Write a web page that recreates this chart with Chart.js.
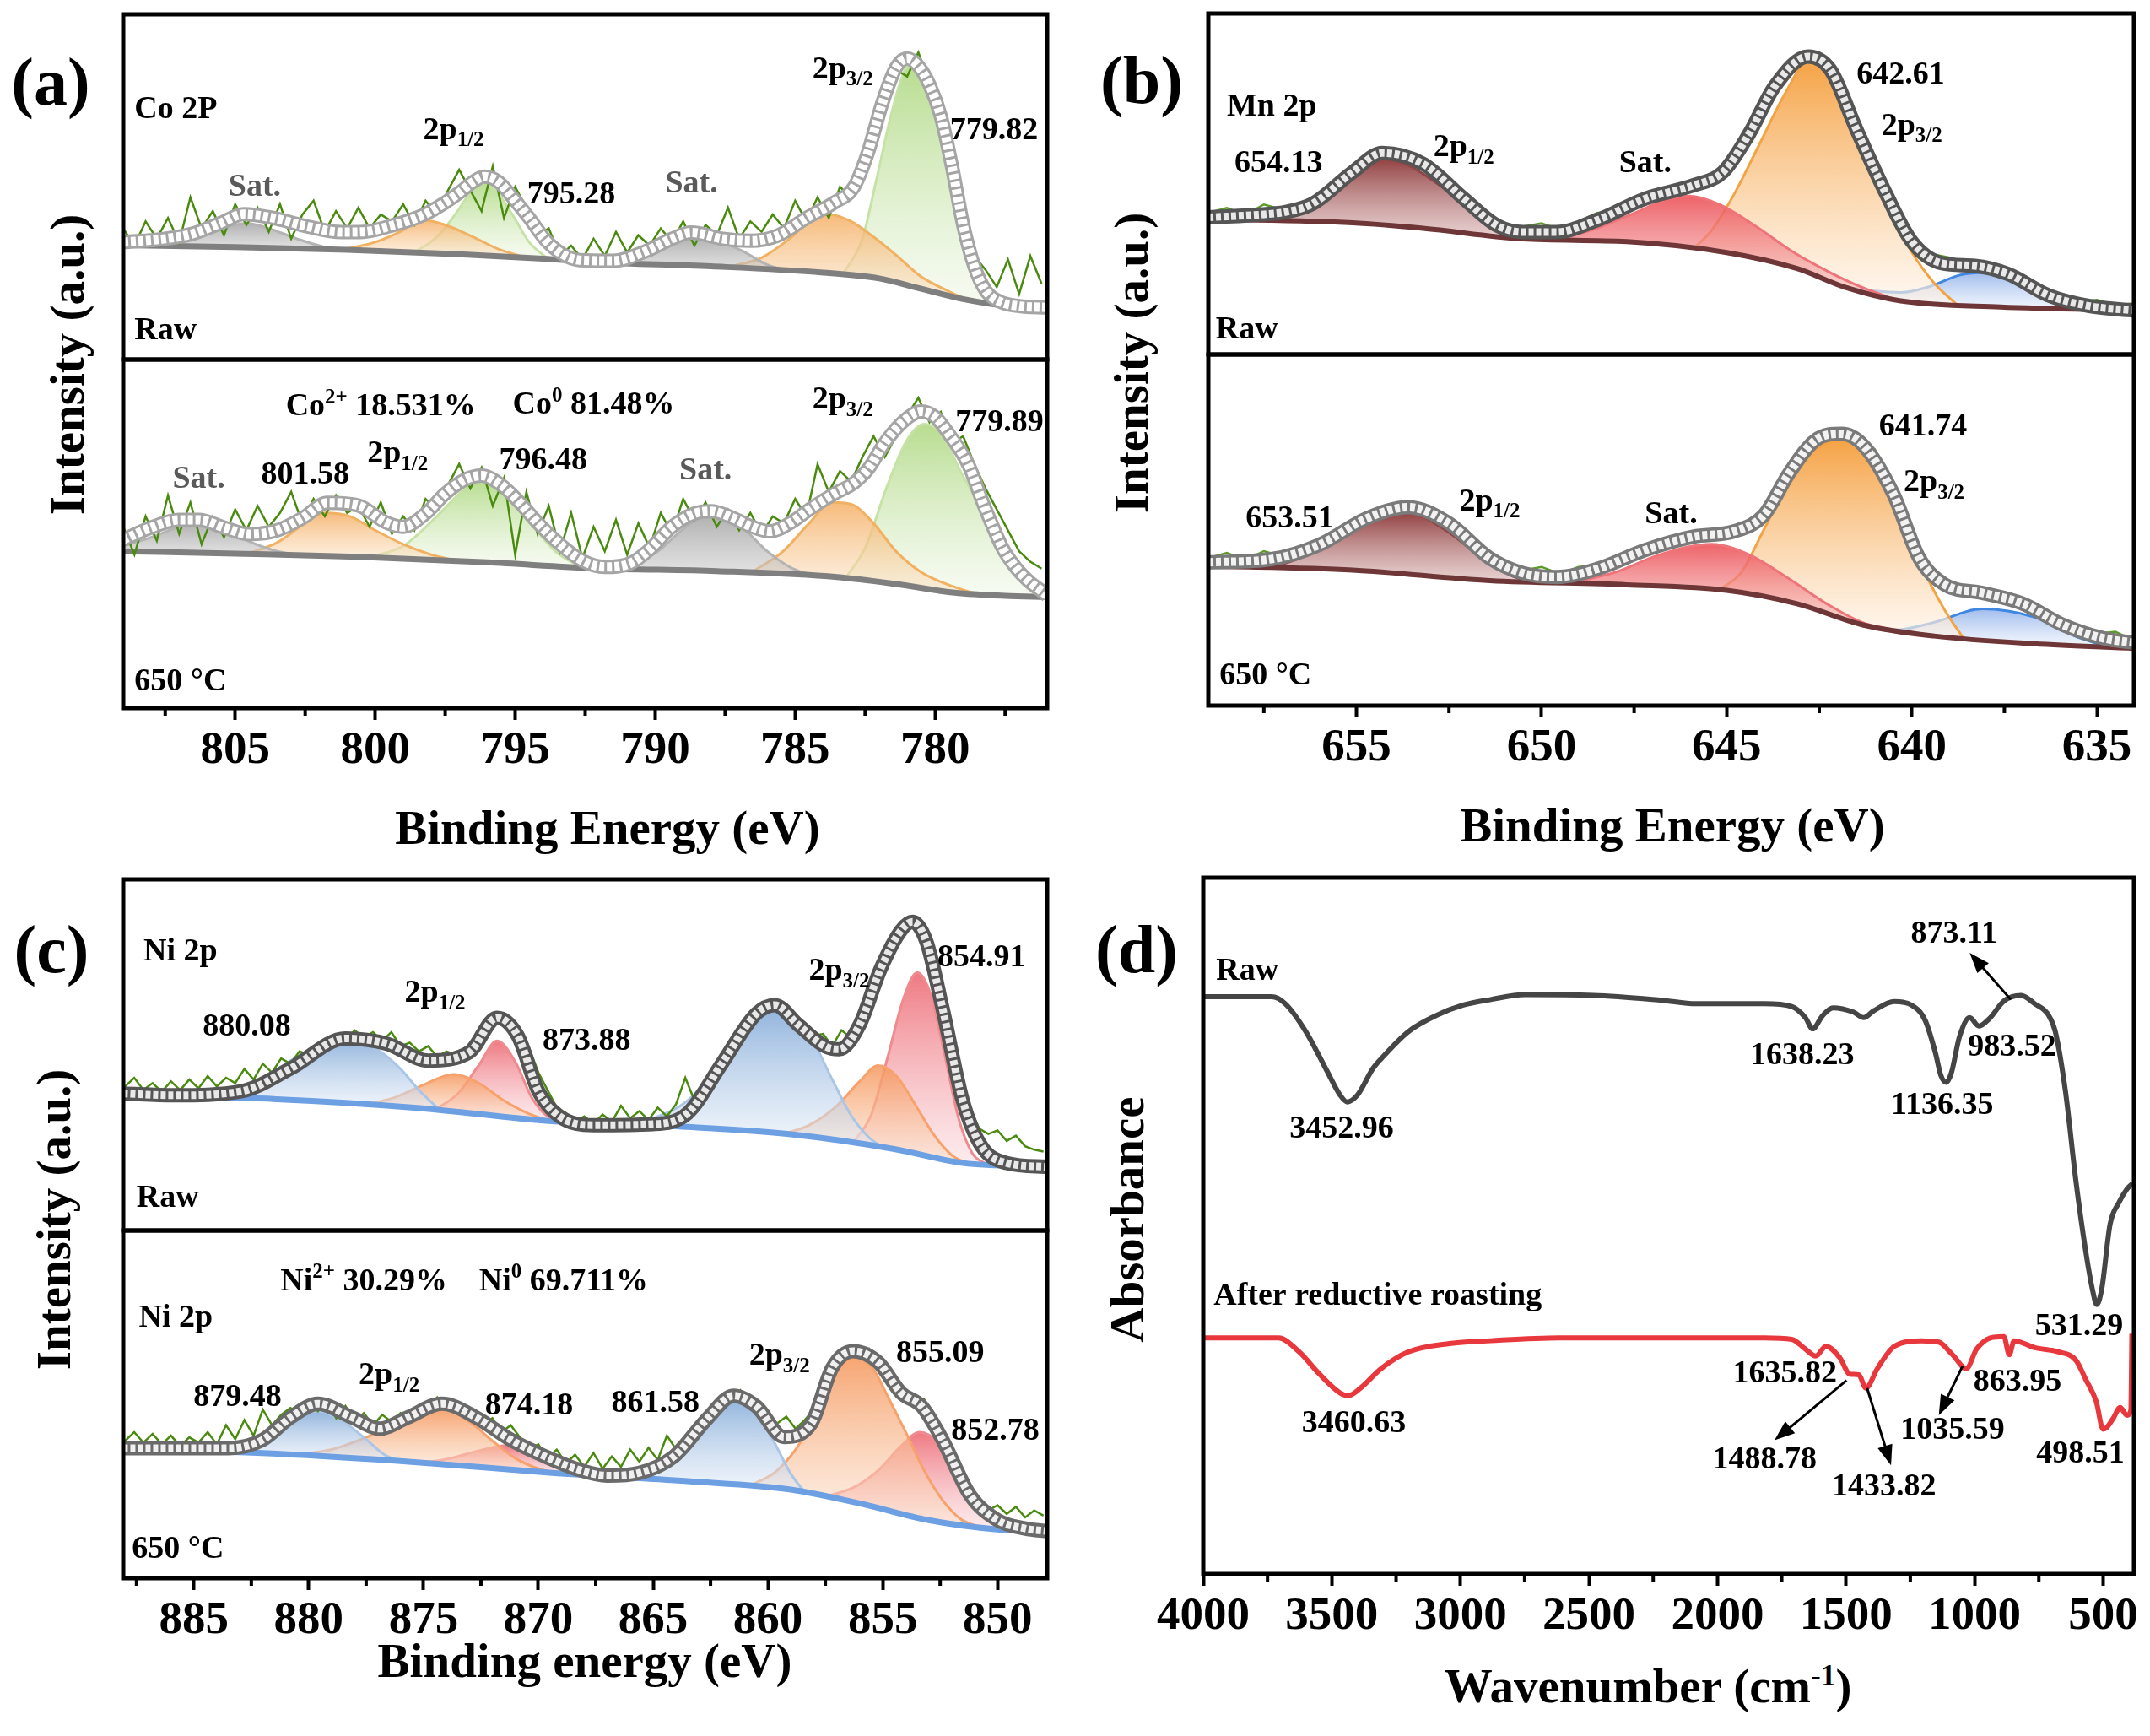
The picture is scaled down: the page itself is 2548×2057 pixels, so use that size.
<!DOCTYPE html>
<html>
<head>
<meta charset="utf-8">
<title>XPS Co 2p / Mn 2p / Ni 2p and FTIR</title>
<script src="https://cdn.jsdelivr.net/npm/chart.js@4.4.1/dist/chart.umd.min.js"></script>
<style>
  body { margin: 0; background: #fff; }
  #fig { position: relative; width: 2548px; height: 2057px; background: #fff;
         font-family: "Liberation Serif", "Times New Roman", serif; font-weight: bold; color: #000; }
  canvas { position: absolute; }
  .t { position: absolute; transform: translate(-50%, -50%); white-space: nowrap; line-height: 1; font-size: 57px; }
  .v { transform: translate(-50%, -50%) rotate(-90deg); }
  .p { font-size: 80px; }
  sup { font-size: 0.62em; vertical-align: 0.55em; line-height: 0; }
</style>
</head>
<body>
<div id="fig">
  <div class="t p" style="left:60px;top:97px">(a)</div>
  <div class="t p" style="left:1353px;top:95px">(b)</div>
  <div class="t p" style="left:61px;top:1125px">(c)</div>
  <div class="t p" style="left:1347px;top:1125px">(d)</div>
  <div class="t v" style="left:79px;top:432px">Intensity (a.u.)</div>
  <div class="t v" style="left:1340px;top:430px">Intensity (a.u.)</div>
  <div class="t v" style="left:63px;top:1445px">Intensity (a.u.)</div>
  <div class="t v" style="left:1335px;top:1445px">Absorbance</div>
  <div class="t" style="left:720px;top:980px">Binding Energy (eV)</div>
  <div class="t" style="left:1982px;top:977px">Binding Energy (eV)</div>
  <div class="t" style="left:693px;top:1967px">Binding energy (eV)</div>
  <div class="t" style="left:1953px;top:1997px">Wavenumber (cm<sup>-1</sup>)</div>
</div>
<script>
// ---------- (a) Co 2p : [binding energy, intensity %] ----------
const coTicks = [805, 800, 795, 790, 785, 780];
const coTopBase = [[809,33.1],[805,32.6],[801,31.8],[797,30.5],[794,29.2],[792,28.2],[788,27.0],[784,25.2],[782,23.5],[780.5,20.5],[779,17.5],[777.5,15.6],[776,15.1]];
const coTopGray1 = [[807.5,32.9],[806.3,35.5],[805.2,38.6],[804.6,39.5],[803.8,38.0],[802.8,35.0],[801.8,32.6],[801.0,31.8]];
const coTopOrange1 = [[801.2,31.8],[800.0,34.0],[799.0,37.5],[798.4,40.5],[797.5,39.0],[796.5,35.5],[795.6,32.0],[794.6,29.5]];
const coTopGreen1 = [[798.6,31.0],[797.8,35.5],[797.1,42.5],[796.6,48.5],[796.2,52.0],[795.7,49.0],[795.1,42.0],[794.5,34.0],[793.8,29.0]];
const coTopGray2 = [[791.6,28.1],[790.4,30.5],[789.4,34.0],[788.7,35.5],[787.8,34.5],[786.9,31.5],[786.0,27.5],[785.2,25.7]];
const coTopOrange2 = [[787.4,26.8],[786.2,29.5],[785.2,35.0],[784.4,40.5],[783.8,42.0],[783.0,40.0],[782.2,35.5],[781.4,30.3],[780.5,24.0],[779.7,20.5],[778.9,17.6],[778.2,16.5]];
const coTopGreen2 = [[783.3,24.6],[782.6,35.0],[782.1,52.0],[781.6,70.0],[781.2,81.5],[780.9,86.0],[780.5,84.0],[780.0,74.0],[779.6,58.0],[779.2,44.0],[778.9,33.0],[778.5,23.0],[778.0,16.8],[777.5,15.6]];
const coTopFit = [[809,34.0],[807.5,35.0],[806.5,36.5],[805.5,39.6],[804.7,42.1],[803.7,41.1],[802.5,38.7],[801.2,36.9],[800.4,37.0],[799.5,38.6],[798.3,41.8],[797.5,45.5],[797.0,48.3],[796.5,51.5],[796.1,53.0],[795.6,51.5],[795.1,47.0],[794.5,41.0],[793.9,34.5],[793.3,30.5],[792.7,28.8],[791.5,28.6],[790.3,31.5],[789.4,35.0],[788.7,36.8],[787.6,35.0],[786.6,34.4],[785.6,36.0],[784.6,41.0],[783.6,45.5],[782.9,50.0],[782.4,60.0],[781.9,74.0],[781.4,84.5],[781.0,87.2],[780.6,85.0],[780.2,79.5],[779.8,70.5],[779.4,56.0],[779.0,39.0],[778.6,27.0],[778.2,20.0],[777.7,16.8],[777.0,15.5],[776,15.1]];
// raw spectra sampled every 0.4 eV from 809 eV downwards
const coRawStart = 809, coRawStep = 0.4;
const coTopRaw = [38,33,40,35,41,34,47,38,43,36,45,39,44,37,45,35,42,46,37,43,38,44,38,42,40,45,39,46,42,49,55,49,43,56,41,50,44,36,38,30,33,29,35,30,37,31,36,33,38,34,40,33,39,36,44,35,40,37,42,38,46,40,47,41,50,47,53,62,72,84,82,89,80,72,58,44,30,26,21,29,19,30,22];

const coBotBase = [[809,45.0],[805,44.3],[800.6,43.4],[796,41.8],[792.1,40.1],[787.8,39.3],[783.5,37.6],[781.4,35.6],[779.3,33.1],[777.5,32.2],[776,31.9]];
const coBotGray1 = [[809,46.5],[808.0,49.0],[807.0,52.0],[806.3,53.0],[805.3,51.0],[804.4,47.5],[803.5,45.0],[802.6,43.8]];
const coBotOrange1 = [[804.6,44.2],[803.5,47.5],[802.6,52.5],[801.8,56.0],[800.9,55.0],[800.0,51.0],[799.0,47.0],[798.0,44.0],[797.0,42.1]];
const coBotGreen1 = [[800.2,43.3],[799.0,46.5],[797.8,55.0],[797.0,61.5],[796.4,65.5],[795.7,63.5],[795.0,58.5],[794.3,51.5],[793.5,44.5],[792.6,40.3]];
const coBotGray2 = [[791.0,39.9],[789.9,45.0],[788.9,52.0],[788.0,55.5],[787.0,52.5],[786.0,45.0],[785.2,40.5],[784.4,38.0]];
const coBotOrange2 = [[786.6,38.8],[785.5,44.5],[784.5,53.0],[783.7,59.0],[783.0,58.5],[782.2,53.0],[781.4,45.0],[780.5,39.0],[779.4,35.0],[778.3,32.5],[777.4,32.2]];
const coBotGreen2 = [[783.2,37.3],[782.5,46.0],[781.7,64.0],[781.0,77.0],[780.4,81.5],[779.8,79.0],[779.1,68.0],[778.4,58.0],[777.7,47.0],[777.0,38.0],[776.3,33.0]];
const coBotFit = [[809,48.3],[808.0,51.8],[807.0,54.0],[806.3,54.0],[805.4,51.8],[804.5,49.9],[803.5,51.0],[802.6,54.5],[801.7,58.9],[800.6,58.1],[799.6,53.2],[799.0,52.0],[798.2,55.8],[797.5,61.5],[796.8,65.5],[796.2,66.7],[795.5,64.0],[794.9,59.5],[794.2,53.2],[793.4,47.0],[792.6,42.3],[791.8,40.5],[790.9,41.5],[790.2,45.5],[789.4,52.0],[788.6,55.8],[788.0,56.5],[787.3,54.8],[786.6,52.2],[785.9,50.7],[785.2,53.0],[784.4,57.5],[783.6,61.5],[782.9,64.6],[782.4,68.5],[781.8,76.1],[781.1,82.5],[780.5,85.1],[780.0,83.5],[779.5,78.5],[778.8,69.6],[778.3,59.0],[778.0,53.2],[777.6,46.0],[777.1,40.1],[776.6,36.0],[776.2,33.6],[776,32.3]];
const coBotRaw = [52,44,55,48,61,50,59,47,55,49,57,51,58,52,56,62,53,60,55,61,56,58,52,59,50,55,51,60,57,64,70,63,69,58,66,44,62,50,58,45,56,43,52,45,54,44,53,46,56,50,60,54,59,52,57,51,56,50,55,53,60,55,70,62,68,65,72,78,72,78,84,89,82,85,76,78,70,63,57,51,45,42,40];

// ---------- (b) Mn 2p ----------
const mnTicks = [655, 650, 645, 640, 635];
const mnTopBase = [[659,39.7],[655.1,38.6],[653.2,37.0],[650.5,33.9],[647.7,33.1],[645,29.9],[643.1,25.2],[641.8,19.7],[640.3,15.7],[637.6,13.9],[634,12.9]];
const mnTopDark = [[657.5,39.3],[656.5,42.5],[655.5,49.5],[654.8,55.5],[654.3,57.5],[653.6,55.5],[652.8,50.0],[652.0,43.5],[651.2,37.0],[650.4,33.9]];
const mnTopRed = [[650.0,33.8],[648.8,36.0],[647.6,41.0],[646.6,45.5],[646.0,46.5],[645.2,44.0],[644.2,37.5],[643.2,30.0],[642.2,24.0],[641.3,19.5],[640.4,16.0]];
const mnTopOrange = [[645.9,31.0],[645.4,36.5],[644.8,47.0],[644.1,62.0],[643.4,77.0],[642.8,86.0],[642.1,80.0],[641.4,64.0],[640.7,45.0],[640.0,30.0],[639.4,21.0],[638.8,14.8]];
const mnTopBlue = [[641.9,20.0],[641.0,18.6],[640.3,18.2],[639.5,20.0],[638.7,23.3],[638.0,24.0],[637.2,22.0],[636.4,18.0],[635.6,14.5],[635.0,13.3]];
const mnTopFit = [[659,40.2],[657.5,41.1],[656.9,41.8],[656.2,44.1],[655.1,53.5],[654.3,59.1],[653.2,55.9],[652.1,45.7],[651.2,37.8],[650.5,35.9],[649.6,35.9],[648.5,39.4],[647.2,45.7],[645.9,49.6],[645.1,53.5],[644.4,64.6],[643.7,78.7],[642.8,87.4],[642.2,83.5],[641.5,66.1],[640.7,47.2],[640.0,33.1],[639.2,26.8],[638.3,26.0],[637.4,23.6],[636.3,17.3],[635.2,14.2],[634,12.9]];
const mnRawStart = 659, mnRawStep = 0.5;
const mnTopRaw = [41.5,43,41,44,42.5,44,46,50,54,60,58,58.5,55,51,45.5,41,38,37.5,38.5,36.5,39,41.5,42,46,46.5,49,48.5,52,55,63,73,80.5,87.5,86,81,67,54,44,34.5,29.5,28.5,27,26.5,25,22.5,19.5,17.5,15.5,16,14.5,15];

const mnBotBase = [[659,39.7],[655.1,38.6],[651.4,35.6],[647.7,34.4],[645,32.8],[643.1,29.0],[641.3,22.9],[639.4,19.8],[636.7,17.6],[634,16.3]];
const mnBotDark = [[657.3,39.2],[656.3,43.0],[655.2,50.0],[654.2,54.5],[653.6,55.0],[652.6,50.0],[651.6,42.0],[650.7,36.5],[650.0,35.2]];
const mnBotRed = [[649.2,34.9],[648.0,38.0],[646.8,43.0],[645.4,46.0],[644.4,43.0],[643.3,36.0],[642.3,29.0],[641.3,23.5],[640.6,21.8]];
const mnBotOrange = [[645.2,32.9],[644.6,38.0],[644.0,50.0],[643.3,64.0],[642.6,73.0],[641.9,75.5],[641.2,71.0],[640.5,58.0],[639.8,41.0],[639.1,27.0],[638.6,19.1]];
const mnBotBlue = [[641.3,22.9],[640.4,21.6],[639.4,23.7],[638.1,27.5],[636.7,25.2],[635.6,19.8],[634.8,17.0]];
const mnBotFit = [[659,40.8],[657.3,41.7],[656.0,45.8],[654.7,53.4],[653.6,56.5],[652.5,51.9],[651.4,42.0],[650.5,37.7],[649.6,36.6],[648.5,38.9],[647.2,44.3],[645.9,48.1],[644.8,49.6],[644.0,54.2],[643.3,66.4],[642.6,75.6],[641.9,77.4],[641.3,74.0],[640.5,60.3],[639.8,42.0],[639.1,34.4],[638.1,32.1],[637.0,29.0],[635.9,22.9],[634.8,19.1],[634,17.9]];
const mnBotRaw = [42,43.5,41.5,44,42.5,45,46,49,52.5,54,57,57,55.5,52.5,47.5,43,40.5,38.5,39.5,37.5,39.5,40,42.5,43.5,46,46.5,48.5,49,50.5,52,56,64.5,71,76,78,76,73,61,48,39.5,34.5,33.5,32.5,31,30,27,24.5,21.5,20.5,21,18.5];

// ---------- (c) Ni 2p ----------
const niTicks = [885, 880, 875, 870, 865, 860, 855, 850];
const niTopBase = [[888.1,38.5],[881.4,37.4],[875.4,35.0],[869.4,31.1],[863.5,29.5],[859,27.4],[854.5,23.2],[851.5,19.2],[847.8,18.1]];
const niTopBlue1 = [[885,38.0],[883.5,40.0],[882,43.5],[880.5,49.5],[879.2,53.5],[878.3,54.5],[877.0,51.5],[876.0,46.0],[875.2,40.0],[874.3,34.4]];
const niTopOrange1 = [[877.5,35.8],[876.2,38.0],[875.0,41.5],[873.7,44.5],[872.6,42.0],[871.5,37.0],[870.5,33.5],[869.5,31.2]];
const niTopRed1 = [[874.5,34.4],[873.5,39.0],[872.6,47.0],[871.8,54.0],[871.0,48.0],[870.3,38.0],[869.6,32.5],[869.0,31.0]];
const niTopBlue2 = [[866.5,30.3],[865,32.0],[863.5,37.0],[862.2,46.5],[861.0,56.0],[860.0,62.5],[859.3,63.0],[858.3,57.0],[857.2,43.0],[856.4,33.0],[855.6,26.5],[855.0,23.7]];
const niTopOrange2 = [[859.3,27.5],[858.2,30.0],[857.0,35.5],[856.0,42.5],[855.2,47.0],[854.4,44.0],[853.6,36.0],[852.8,27.5],[852.0,21.5],[851.3,19.1]];
const niTopRed2 = [[856.3,24.9],[855.5,33.0],[854.8,49.0],[854.1,66.0],[853.5,73.5],[852.9,67.0],[852.3,50.0],[851.7,32.0],[851.1,22.0],[850.5,18.9]];
const niTopFit = [[888.1,39.0],[885.9,38.5],[882.9,39.7],[880.8,46.1],[878.4,54.7],[876.6,53.2],[874.8,48.4],[873.0,50.8],[871.8,60.6],[870.9,55.5],[870.0,39.7],[869.1,32.6],[867.6,30.0],[865.0,30.3],[863.5,33.4],[862.0,47.6],[860.5,61.8],[859.7,64.2],[858.7,58.7],[857.5,52.4],[856.9,51.6],[856.0,58.7],[855.1,74.4],[854.2,85.5],[853.7,87.9],[853.1,82.3],[852.4,63.4],[851.5,36.6],[850.7,24.0],[849.6,19.2],[847.8,18.1]];
const niRawStart = 888, niRawStep = 0.4;
const niTopRaw = [41,43.5,40,42,39.5,42.5,40,43,40.5,44,41,43.5,42,46,43,47.5,45,49,47.5,51,50,53,52.5,55.5,54,57,55,56.5,54,56.5,52.5,53.5,51,52.5,49.5,51,50,52,53.5,56,59.5,61,58,56.5,52,45,40,35,33.5,31,32.5,30.5,33,31,35.5,32,34,31.5,35,32.5,36,43.5,37,41,45,48.5,52,56.5,58.5,63,64.5,63.5,63,59,58.5,55.5,56,52.5,57,55,60,65,73,79,84,87.5,86,84.5,77,66,55,42,35,29,27.5,28.5,25.5,27,24,23,22.5];

const niBotBase = [[888.1,37.4],[881.4,35.8],[875.4,33.4],[869.4,30.3],[863.5,27.9],[859,25.5],[856,21.5],[853,16.7],[850,14.0],[847.8,13.2]];
const niBotBlue1 = [[883.8,36.4],[882.6,39.0],[881.5,43.0],[880.5,46.5],[879.6,48.0],[878.6,45.5],[877.6,40.5],[876.7,35.5],[876.0,33.6]];
const niBotOrange1 = [[880.5,35.5],[879.0,37.0],[877.5,40.5],[876.0,45.0],[874.8,48.5],[874.0,48.5],[873.0,45.0],[872.0,39.5],[871.0,34.5],[870.0,31.5],[869.2,30.2]];
const niBotRed1 = [[875.0,33.2],[873.8,34.5],[872.5,36.8],[871.3,38.2],[870.2,36.0],[869.0,32.5],[867.8,29.6]];
const niBotBlue2 = [[866.0,28.9],[864.8,33.0],[863.5,41.0],[862.4,48.5],[861.5,51.5],[860.6,48.5],[859.8,40.0],[859.0,30.0],[858.4,24.7]];
const niBotOrange2 = [[860.8,26.5],[859.6,31.0],[858.5,40.0],[857.6,53.0],[856.8,61.5],[856.2,63.5],[855.4,60.0],[854.8,52.5],[854.0,42.0],[853.2,31.0],[852.4,22.5],[851.6,17.0],[850.8,14.7]];
const niBotRed2 = [[857.5,23.5],[856.3,26.0],[855.2,31.0],[854.2,38.0],[853.4,42.0],[852.6,39.0],[851.8,30.0],[851.0,21.5],[850.2,16.0],[849.4,13.8]];
const niBotFit = [[888.1,37.4],[883.5,37.4],[882.0,39.8],[880.8,46.2],[879.6,50.2],[878.1,46.2],[876.9,43.0],[875.7,46.2],[874.2,50.2],[872.7,46.2],[871.2,39.8],[869.7,35.0],[868.2,31.1],[867.0,29.5],[865.6,30.3],[864.1,35.0],[862.6,46.2],[861.5,52.5],[860.5,49.4],[859.3,40.6],[858.1,44.6],[857.2,60.5],[856.3,65.3],[855.2,62.1],[854.2,53.3],[853.3,49.4],[852.4,39.8],[851.2,23.9],[850.0,16.7],[848.8,14.3],[847.8,13.5]];
const niBotRaw = [39.5,42,39,41.5,38.5,41,38,40.5,39,42,38.5,44,40,45.5,41,48.5,44,47,49,47.5,51,48,50.5,46,49.5,45,47.5,44,47,45,47.5,46,49,48.5,52,49,51,47,48.5,44.5,46,42,44,40.5,37,38.5,34.5,37,33,35.5,32,36,31.5,35,32,37,33.5,37.5,34,41,37,40,44,46.5,49,52.5,50.5,54,50,47.5,47,44.5,46.5,43,45.5,48.5,56,60,65,66.5,64,66,61,60.5,56,53,51,51.5,46,41,36,30,25,22,19.5,21,18.5,20.5,17.5,19.5,18];

// ---------- (d) FTIR : [wavenumber, absorbance %] ----------
const irTicks = [4000, 3500, 3000, 2500, 2000, 1500, 1000, 500];
const irRaw = [[4000,82.9],[3734,82.9],[3681,81.9],[3601,77.9],[3521,72.4],[3468,68.8],[3440,67.8],[3400,68.8],[3340,72.6],[3308,74.0],[3202,77.9],[3095,80.2],[2989,81.7],[2882,82.5],[2749,83.2],[2483,83.1],[2217,82.4],[2084,81.9],[1817,81.9],[1711,81.5],[1658,79.9],[1630,78.3],[1591,80.2],[1551,81.3],[1471,80.7],[1431,79.9],[1392,80.9],[1312,82.2],[1245,81.7],[1192,79.5],[1152,74.8],[1131,71.6],[1110,70.6],[1090,72.0],[1059,77.1],[1019,79.9],[983,78.7],[939,79.9],[886,82.3],[819,83.1],[766,81.9],[713,80.3],[686,77.9],[646,69.2],[606,56.5],[567,46.2],[540,40.6],[525,38.7],[505,41.0],[473,50.2],[439,53.3],[407,55.3],[385,56.1]];
const irRoasted = [[4000,33.9],[3707,33.9],[3627,31.9],[3548,28.7],[3468,26.0],[3436,25.6],[3388,26.7],[3308,29.5],[3202,31.9],[3042,33.1],[2882,33.5],[2616,33.9],[1817,33.9],[1711,33.7],[1658,32.3],[1618,31.3],[1578,32.7],[1525,31.1],[1485,28.7],[1450,28.6],[1423,26.7],[1378,29.5],[1312,32.7],[1205,33.5],[1139,33.3],[1086,31.5],[1032,29.5],[992,32.3],[939,33.9],[886,34.1],[865,31.5],[846,33.5],[766,32.5],[673,31.9],[606,30.7],[567,27.9],[527,24.8],[500,20.8],[487,21.0],[460,22.4],[434,23.9],[407,22.8],[392,23.5],[388,34.5]];

// ---------- labels placed in data units: [x, y, text, align, colour] ----------
const GRAY_TXT = '#5a5a5a';
const coTopNotes = [[808.6,72.4,'Co 2P','left'],[804.3,49.9,'Sat.','center',GRAY_TXT],[797.2,66.3,'2p_{1/2}'],[793.0,47.6,'795.28'],[788.7,50.7,'Sat.','center',GRAY_TXT],[783.3,83.9,'2p_{3/2}'],[777.9,66.3,'779.82'],[808.6,8.2,'Raw','left']];
const coBotNotes = [[799.8,86.3,'Co^{2+} 18.531%'],[792.2,86.8,'Co^{0} 81.48%'],[806.3,65.5,'Sat.','center',GRAY_TXT],[802.5,66.7,'801.58'],[799.2,72.8,'2p_{1/2}'],[794.0,70.8,'796.48'],[788.2,67.9,'Sat.','center',GRAY_TXT],[783.3,88.4,'2p_{3/2}'],[777.7,81.8,'779.89'],[808.6,7.4,'650 °C','left']];
const mnTopNotes = [[658.5,72.4,'Mn 2p','left'],[657.1,55.9,'654.13'],[652.1,60.6,'2p_{1/2}'],[647.2,55.9,'Sat.'],[640.3,81.9,'642.61'],[640.0,66.9,'2p_{3/2}'],[658.8,7.1,'Raw','left']];
const mnBotNotes = [[639.7,79.4,'641.74'],[639.4,63.4,'2p_{3/2}'],[656.8,53.0,'653.51'],[651.4,58.0,'2p_{1/2}'],[646.5,54.2,'Sat.'],[658.7,8.4,'650 °C','left']];
const niTopNotes = [[887.2,79.2,'Ni 2p','left'],[882.7,57.9,'880.08'],[874.5,67.4,'2p_{1/2}'],[867.9,53.9,'873.88'],[856.9,73.7,'2p_{3/2}'],[850.7,77.6,'854.91'],[887.5,9.0,'Raw','left']];
const niBotNotes = [[877.6,85.2,'Ni^{2+} 30.29%'],[868.9,85.2,'Ni^{0} 69.711%'],[887.4,74.8,'Ni 2p','left'],[883.1,51.8,'879.48'],[876.5,58.1,'2p_{1/2}'],[870.4,49.4,'874.18'],[864.9,50.2,'861.58'],[859.5,63.7,'2p_{3/2}'],[852.5,64.5,'855.09'],[850.1,42.2,'852.78'],[887.7,8.3,'650 °C','left']];
const irNotes = [[3950,86.5,'Raw','left'],[3462,63.8,'3452.96'],[1671,74.4,'1638.23'],[1126,67.2,'1136.35'],[854,75.6,'983.52'],[1080,91.8,'873.11'],[3960,39.8,'After reductive roasting','left'],[593,35.5,'531.29'],[1738,28.7,'1635.82'],[833,27.5,'863.95'],[3414,21.6,'3460.63'],[1086,20.6,'1035.59'],[588,17.2,'498.51'],[1817,16.4,'1488.78'],[1352,12.5,'1433.82']];
// arrows: [from x, from y, to x, to y]
const irArrows = [[859,82.5,1019,89.2],[1498,27.8,1778,19.2],[1418,26.7,1325,15.6],[1046,29.9,1139,22.8]];

// ---------- styles ----------
const FONT = '"Liberation Serif", "Times New Roman", serif';
Chart.defaults.font.family = FONT;
Chart.defaults.font.weight = 'bold';
Chart.defaults.color = '#000';

const coGray = ['#b3b3b3', 'rgba(150,150,150,0.75)', 'rgba(205,205,205,0.55)'];
const coOrange = ['#f0b163', 'rgba(245,175,100,0.85)', 'rgba(251,228,200,0.5)'];
const coGreen = ['#c6e2a6', 'rgba(165,212,115,0.8)', 'rgba(236,246,226,0.45)'];
const mnDark = ['#8e4646', 'rgba(140,55,55,0.95)', 'rgba(218,180,180,0.6)'];
const mnRed = ['#ee7479', 'rgba(236,82,88,0.9)', 'rgba(247,195,196,0.55)'];
const mnOrange = ['#f2a344', 'rgba(245,163,70,1)', 'rgba(255,244,232,0.65)'];
const mnBlue = ['#3f87e0', 'rgba(120,160,230,0.7)', 'rgba(226,236,250,0.5)'];
const niBlue = ['#a9c6e8', 'rgba(128,168,215,0.85)', 'rgba(226,236,248,0.5)'];
const niOrange = ['#f7a26c', 'rgba(245,150,90,0.85)', 'rgba(252,226,206,0.5)'];
const niRed = ['#f08a8f', 'rgba(236,98,108,0.85)', 'rgba(250,216,220,0.5)'];

const pts = a => a.map(([x, y]) => ({x, y}));
const sampled = (x0, step, ys) => ys.map((y, i) => ({x: x0 - i * step, y}));

function fade(top, bottom) {
  return ctx => {
    const ch = ctx.chart;
    if (!ch.chartArea || !ctx.dataset) return top;
    let hi = -Infinity, lo = Infinity;
    for (const p of ctx.dataset.data) { hi = Math.max(hi, p.y); lo = Math.min(lo, p.y); }
    const ys = ch.scales.y;
    const g = ch.ctx.createLinearGradient(0, ys.getPixelForValue(hi), 0, ys.getPixelForValue(lo));
    g.addColorStop(0, top);
    g.addColorStop(1, bottom);
    return g;
  };
}
const common = {pointRadius: 0, clip: 0, cubicInterpolationMode: 'monotone'};
const baseLine = (d, color, w) => ({...common, data: pts(d), borderColor: color, borderWidth: w, fill: false, order: 3});
const peak = (d, pal) => ({...common, data: pts(d), borderColor: pal[0], borderWidth: 3, fill: {target: 0}, backgroundColor: fade(pal[1], pal[2]), order: 4});
const rawLine = (d, color) => ({pointRadius: 0, clip: 0, data: d, borderColor: color, borderWidth: 2.5, fill: false, order: 2, tension: 0});
const fitTube = (d, outer, inner, w) => [
  {...common, data: pts(d), borderColor: outer, borderWidth: 17, fill: false, order: 1},
  {...common, data: pts(d), borderColor: inner, borderWidth: w, borderDash: [6, 3], borderCapStyle: 'butt', fill: false, order: 0}
];

// ---------- plugins ----------
function framePlugin(axis) {
  return {
    id: 'frame',
    afterDraw(chart) {
      const {ctx, chartArea: a} = chart;
      ctx.save();
      ctx.strokeStyle = '#000';
      ctx.lineWidth = 5;
      ctx.strokeRect(a.left, a.top, a.right - a.left, a.bottom - a.top);
      if (axis) {
        const xs = chart.scales.x;
        ctx.lineWidth = 4;
        for (let v = Math.ceil(xs.min / axis.minor) * axis.minor; v <= xs.max; v += axis.minor) {
          if (Math.abs(v / axis.major - Math.round(v / axis.major)) < 1e-6) continue;
          const px = xs.getPixelForValue(v);
          ctx.beginPath(); ctx.moveTo(px, a.bottom); ctx.lineTo(px, a.bottom + 9); ctx.stroke();
        }
      }
      ctx.restore();
    }
  };
}

function drawRich(ctx, px, py, text, align, color, size) {
  const parts = [];
  text.replace(/([_^])\{([^}]*)\}|([^_^]+)/g, (m, k, s, plain) => {
    parts.push(plain !== undefined ? {s: plain, k: ''} : {s, k});
    return m;
  });
  const small = Math.round(size * 0.66);
  let w = 0;
  for (const p of parts) {
    ctx.font = `bold ${p.k ? small : size}px ${FONT}`;
    p.w = ctx.measureText(p.s).width;
    w += p.w;
  }
  let x = align === 'left' ? px : px - w / 2;
  ctx.fillStyle = color;
  ctx.textAlign = 'left';
  ctx.textBaseline = 'middle';
  for (const p of parts) {
    ctx.font = `bold ${p.k ? small : size}px ${FONT}`;
    const dy = p.k === '_' ? size * 0.32 : p.k === '^' ? -size * 0.3 : 0;
    ctx.fillText(p.s, x, py + dy);
    x += p.w;
  }
}

function notesPlugin(notes, arrows) {
  return {
    id: 'notes',
    afterDatasetsDraw(chart) {
      const {ctx} = chart;
      const xs = chart.scales.x, ys = chart.scales.y;
      ctx.save();
      for (const [x, y, text, align, color] of notes) {
        drawRich(ctx, xs.getPixelForValue(x), ys.getPixelForValue(y), text, align || 'center', color || '#000', 38);
      }
      ctx.strokeStyle = '#000';
      ctx.fillStyle = '#000';
      ctx.lineWidth = 3;
      for (const [x1, y1, x2, y2] of arrows || []) {
        const ax = xs.getPixelForValue(x1), ay = ys.getPixelForValue(y1);
        const bx = xs.getPixelForValue(x2), by = ys.getPixelForValue(y2);
        const ang = Math.atan2(by - ay, bx - ax), c = Math.cos(ang), s = Math.sin(ang);
        ctx.beginPath(); ctx.moveTo(ax, ay); ctx.lineTo(bx - 18 * c, by - 18 * s); ctx.stroke();
        ctx.beginPath();
        ctx.moveTo(bx, by);
        ctx.lineTo(bx - 24 * c + 9 * s, by - 24 * s - 9 * c);
        ctx.lineTo(bx - 24 * c - 9 * s, by - 24 * s + 9 * c);
        ctx.closePath(); ctx.fill();
      }
      ctx.restore();
    }
  };
}

// ---------- layout ----------
const fig = document.getElementById('fig');
const HM = 70, VM = 14, AX = 100;

function plot(box, range, axis, datasets, notes, arrows) {
  const c = document.createElement('canvas');
  const w = box.R - box.L + 2 * HM;
  const h = box.B - box.T + VM + (axis ? AX : VM);
  c.width = w; c.height = h;
  Object.assign(c.style, {left: (box.L - HM) + 'px', top: (box.T - VM) + 'px', width: w + 'px', height: h + 'px'});
  fig.appendChild(c);
  return new Chart(c, {
    type: 'line',
    data: {datasets},
    options: {
      responsive: false,
      animation: false,
      devicePixelRatio: 1,
      layout: {autoPadding: false, padding: {left: HM, right: HM, top: VM, bottom: axis ? 0 : VM}},
      plugins: {legend: {display: false}, tooltip: {enabled: false}},
      scales: {
        x: {
          type: 'linear', min: range[1], max: range[0], reverse: true, display: !!axis,
          afterBuildTicks: s => { if (axis) s.ticks = axis.ticks.map(v => ({value: v})); },
          afterFit: s => { s.height = axis ? AX : 0; s.paddingLeft = 0; s.paddingRight = 0; s.paddingTop = 0; s.paddingBottom = 0; },
          ticks: {autoSkip: false, maxRotation: 0, padding: 4, color: '#000', font: {size: 55, weight: 'bold'}, callback: v => String(v)},
          grid: {drawOnChartArea: false, drawTicks: true, tickLength: 14, tickWidth: 4, tickColor: '#000'},
          border: {display: false}
        },
        y: {min: 0, max: 100, display: false}
      }
    },
    plugins: [framePlugin(axis), notesPlugin(notes, arrows)]
  });
}

const coRange = [809, 776], mnRange = [659, 634], niRange = [888.08, 847.84], irRange = [4000, 380];
const coAxis = {ticks: coTicks, minor: 2.5, major: 5};
const mnAxis = {ticks: mnTicks, minor: 2.5, major: 5};
const niAxis = {ticks: niTicks, minor: 2.5, major: 5};
const irAxis = {ticks: irTicks, minor: 250, major: 500};

// (a)
plot({L: 146, R: 1241, T: 17, B: 426}, coRange, null, [
  baseLine(coTopBase, '#7f7f7f', 7),
  peak(coTopGray1, coGray), peak(coTopOrange1, coOrange), peak(coTopGreen1, coGreen),
  peak(coTopGray2, coGray), peak(coTopOrange2, coOrange), peak(coTopGreen2, coGreen),
  rawLine(sampled(coRawStart, coRawStep, coTopRaw), '#4a8a0e'),
  ...fitTube(coTopFit, '#a5a5a5', '#ffffff', 11)
], coTopNotes);
plot({L: 146, R: 1241, T: 426, B: 839}, coRange, coAxis, [
  baseLine(coBotBase, '#7f7f7f', 7),
  peak(coBotGray1, coGray), peak(coBotOrange1, coOrange), peak(coBotGreen1, coGreen),
  peak(coBotGray2, coGray), peak(coBotOrange2, coOrange), peak(coBotGreen2, coGreen),
  rawLine(sampled(coRawStart, coRawStep, coBotRaw), '#4a8a0e'),
  ...fitTube(coBotFit, '#a5a5a5', '#ffffff', 11)
], coBotNotes);

// (b)
plot({L: 1432, R: 2529, T: 16, B: 420}, mnRange, null, [
  baseLine(mnTopBase, '#6e3636', 6),
  peak(mnTopDark, mnDark), peak(mnTopRed, mnRed), peak(mnTopOrange, mnOrange), peak(mnTopBlue, mnBlue),
  rawLine(sampled(mnRawStart, mnRawStep, mnTopRaw), '#5c9a2a'),
  ...fitTube(mnTopFit, '#555555', '#e8e8e8', 9)
], mnTopNotes);
plot({L: 1432, R: 2529, T: 420, B: 836}, mnRange, mnAxis, [
  baseLine(mnBotBase, '#6e3636', 6),
  peak(mnBotDark, mnDark), peak(mnBotRed, mnRed), peak(mnBotOrange, mnOrange), peak(mnBotBlue, mnBlue),
  rawLine(sampled(mnRawStart, mnRawStep, mnBotRaw), '#5c9a2a'),
  ...fitTube(mnBotFit, '#7a7a7a', '#f2f2f2', 10)
], mnBotNotes);

// (c)
plot({L: 146, R: 1241, T: 1042, B: 1458}, niRange, null, [
  baseLine(niTopBase, '#6d9fe3', 7),
  peak(niTopBlue1, niBlue), peak(niTopOrange1, niOrange), peak(niTopRed1, niRed),
  peak(niTopBlue2, niBlue), peak(niTopOrange2, niOrange), peak(niTopRed2, niRed),
  rawLine(sampled(niRawStart, niRawStep, niTopRaw), '#4a8a0e'),
  ...fitTube(niTopFit, '#555555', '#e8e8e8', 9)
], niTopNotes);
plot({L: 146, R: 1241, T: 1458, B: 1870}, niRange, niAxis, [
  baseLine(niBotBase, '#6d9fe3', 7),
  peak(niBotBlue1, niBlue), peak(niBotOrange1, niOrange), peak(niBotRed1, niRed),
  peak(niBotBlue2, niBlue), peak(niBotOrange2, niOrange), peak(niBotRed2, niRed),
  rawLine(sampled(niRawStart, niRawStep, niBotRaw), '#4a8a0e'),
  ...fitTube(niBotFit, '#6a6a6a', '#f0f0f0', 9)
], niBotNotes);

// (d)
plot({L: 1426, R: 2529, T: 1040, B: 1865}, irRange, irAxis, [
  {...common, data: pts(irRaw), borderColor: '#454545', borderWidth: 6, fill: false},
  {...common, data: pts(irRoasted), borderColor: '#e8383d', borderWidth: 6, fill: false}
], irNotes, irArrows);
</script>
</body>
</html>
